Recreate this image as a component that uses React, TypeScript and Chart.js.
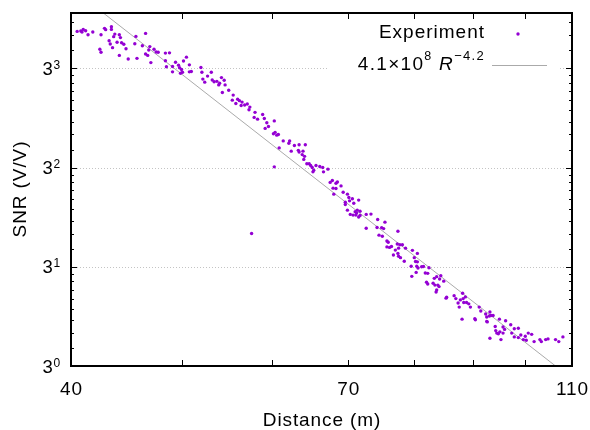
import React, { useEffect, useRef } from "react";
import { Chart, registerables } from "chart.js";

Chart.register(...registerables);

// Experiment: distance (m) and SNR (V/V)
const DISTANCE = [
  40.5, 40.8, 41.0, 40.9, 41.2, 41.4, 41.8, 42.5, 42.8, 42.9,
  43.4, 43.4, 43.7, 43.6, 44.1, 44.2, 43.2, 43.3, 43.9, 44.3,
  44.5, 43.5, 44.7, 42.4, 42.5, 44.1, 44.9, 45.7, 45.6, 45.5,
  46.5, 46.2, 46.9, 46.8, 46.5, 46.7, 47.0, 47.3, 47.5, 47.7,
  48.4, 48.8, 48.4, 48.5, 49.1, 49.4, 49.7, 49.8, 50.0, 49.1,
  49.9, 50.1, 50.2, 50.5, 50.8, 50.8, 51.0, 52.0, 52.1, 52.2,
  52.4, 52.7, 53.1, 53.2, 53.4, 53.7, 53.9, 54.2, 54.0, 54.5,
  54.6, 55.0, 54.3, 55.5, 55.4, 56.0, 56.2, 55.8, 56.5, 56.4,
  56.8, 57.1, 57.4, 57.3, 58.0, 57.9, 58.3, 58.9, 59.1, 59.4,
  59.6, 60.3, 59.2, 60.4, 60.2, 60.8, 60.6, 61.4, 62.1, 62.2,
  60.9, 62.4, 62.8, 63.4, 63.3, 63.4, 63.9, 64.2, 63.8, 64.1,
  64.0, 64.4, 64.7, 64.9, 65.1, 65.2, 65.3, 65.6, 66.1, 66.5,
  66.6, 67.2, 60.3, 57.6, 67.5, 67.8, 68.3, 68.5, 69.0, 67.9,
  68.3, 68.0, 69.3, 69.9, 70.1, 70.6, 70.2, 69.6, 69.6, 70.8,
  71.5, 69.9, 70.3, 70.7, 71.0, 71.3, 71.2, 71.7, 71.7, 71.1,
  71.5, 72.6, 73.3, 72.6, 74.3, 74.2, 74.5, 74.9, 75.2, 75.4,
  75.0, 75.7, 75.9, 75.7, 76.1, 76.4, 77.4, 77.3, 77.7, 78.1,
  77.5, 77.0, 78.6, 76.7, 77.4, 77.5, 77.8, 78.4, 79.7, 80.5,
  80.0, 80.2, 80.5, 79.5, 80.4, 80.6, 81.2, 81.5, 82.4, 80.3,
  79.6, 81.8, 82.2, 82.0, 82.2, 83.1, 83.3, 83.7, 84.4, 84.2,
  84.9, 83.4, 83.9, 84.1, 83.7, 83.6, 85.3, 85.4, 86.7, 87.0,
  87.4, 87.6, 87.8, 88.2, 88.3, 88.7, 88.4, 88.9, 89.3, 89.6,
  88.1, 90.4, 90.5, 91.2, 91.5, 92.4, 92.6, 92.6, 92.7, 93.2,
  93.4, 93.8, 93.1, 94.2, 94.3, 94.5, 94.8, 95.1, 95.7, 95.3,
  93.2, 95.0, 96.2, 95.7, 96.0, 97.2, 97.4, 97.9, 97.9, 98.7,
  98.7, 99.2, 99.7, 100.1, 100.3, 100.7, 101.4, 101.9, 103.1, 103.4,
  104.3, 104.8, 106.4, 107.1, 108.0,
];
const SNR = [
  40.7, 40.9, 41.6, 40.4, 41.0, 39.2, 40.4, 39.2, 42.1, 41.5,
  42.9, 41.6, 39.5, 38.4, 39.2, 38.0, 36.7, 35.4, 36.1, 35.9,
  35.3, 34.0, 33.6, 33.4, 32.3, 31.2, 30.0, 30.2, 38.5, 35.5,
  39.8, 34.7, 34.4, 33.1, 31.7, 31.2, 28.8, 33.4, 32.4, 32.3,
  32.0, 32.1, 29.4, 27.5, 27.6, 28.9, 28.0, 27.2, 26.7, 26.0,
  25.6, 25.9, 29.3, 30.6, 28.1, 26.0, 26.1, 27.3, 25.9, 24.0,
  23.2, 24.8, 25.9, 23.75, 23.3, 23.4, 22.5, 24.4, 22.9, 23.7,
  22.5, 21.2, 20.7, 20.1, 19.0, 19.2, 18.9, 18.3, 18.6, 17.9,
  18.0, 18.2, 17.6, 17.1, 16.6, 15.7, 15.4, 16.2, 15.5, 14.8,
  14.2, 15.1, 13.9, 13.3, 13.1, 13.0, 12.9, 12.1, 11.8, 12.1,
  11.2, 10.8, 11.5, 11.6, 10.9, 10.7, 10.8, 11.6, 10.4, 10.2,
  9.86, 9.39, 9.39, 9.22, 9.02, 8.59, 8.75, 9.22, 9.12, 9.02,
  8.59, 8.85, 9.08, 4.34, 7.64, 7.81, 7.57, 7.68, 7.35, 7.17,
  7.14, 6.71, 6.85, 6.71, 6.47, 6.38, 6.23, 6.14, 5.98, 6.07,
  6.28, 5.62, 5.36, 5.32, 5.52, 5.62, 5.44, 5.55, 5.30, 5.32,
  5.21, 5.36, 5.38, 4.60, 5.07, 4.64, 4.26, 4.63, 4.58, 4.92,
  4.21, 3.99, 3.94, 3.74, 3.72, 3.76, 4.45, 3.86, 3.83, 3.83,
  3.69, 3.61, 3.69, 3.42, 3.48, 3.37, 3.32, 3.19, 3.60, 3.48,
  3.32, 3.18, 3.17, 3.02, 3.02, 2.96, 3.00, 3.01, 2.97, 2.82,
  2.70, 2.80, 2.79, 2.53, 2.48, 2.50, 2.64, 2.69, 2.72, 2.62,
  2.56, 2.45, 2.45, 2.41, 2.32, 2.27, 2.12, 2.14, 2.18, 2.11,
  2.01, 1.92, 2.08, 2.24, 2.11, 2.15, 2.02, 2.02, 1.99, 1.92,
  1.68, 1.69, 1.67, 1.92, 1.84, 1.78, 1.72, 1.64, 1.63, 1.82,
  1.75, 1.75, 1.74, 1.55, 1.48, 1.44, 1.43, 1.46, 1.44, 1.34,
  1.36, 1.68, 1.65, 1.54, 1.50, 1.58, 1.44, 1.38, 1.51, 1.52,
  1.37, 1.41, 1.34, 1.39, 1.33, 1.44, 1.42, 1.31, 1.34, 1.31,
  1.34, 1.35, 1.34, 1.31, 1.38,
];

// Fitted power-law line, as drawn in the reference (end points)
const FIT_R = [42.7, 106.4];
const FIT_SNR = [49.9, 1.0];

// Axes
const X_MIN = 40;
const X_MAX = 110;
const Y_MIN = 1;
const Y_MAX = 49.9;
const X_TICKS = [40, 50, 60, 70, 80, 90, 100, 110];
const X_TICK_LABELS = [40, 70, 110];
const Y_BASE = 3;
const Y_EXPONENTS = [0, 1, 2, 3];

const PURPLE = "#9400d3";
const FIT_GREY = "#aaaaaa";
const FONT = "'Liberation Sans', Arial, Helvetica, sans-serif";

function setFont(ctx: CanvasRenderingContext2D, size: number, italic = false, spacing = 0.9) {
  ctx.font = `${italic ? "italic " : ""}${size}px ${FONT}`;
  (ctx as any).letterSpacing = `${spacing}px`;
}

const gnuplotLook = {
  id: "gnuplotLook",
  beforeDatasetsDraw(chart: any) {
    const { ctx, chartArea, scales } = chart;
    const { left, right, top } = chartArea;
    const y = scales.y;
    ctx.save();
    ctx.strokeStyle = "#c4c4c4";
    ctx.lineWidth = 1;
    ctx.setLineDash([1, 2]);
    for (const e of Y_EXPONENTS) {
      const v = Math.pow(Y_BASE, e);
      if (v <= Y_MIN) continue;
      const py = Math.round(y.getPixelForValue(v)) + 0.5;
      ctx.beginPath();
      ctx.moveTo(left, py);
      ctx.lineTo(right, py);
      ctx.stroke();
    }
    ctx.setLineDash([]);
    // legend box background
    ctx.fillStyle = "#ffffff";
    ctx.fillRect(right - 245, top + 2, 231, 64);
    ctx.restore();
  },
  afterDatasetsDraw(chart: any) {
    const { ctx, chartArea, scales } = chart;
    const { left, right, top, bottom } = chartArea;
    const x = scales.x;
    const y = scales.y;
    ctx.save();
    ctx.strokeStyle = "#000";
    ctx.fillStyle = "#000";

    // ticks
    ctx.lineWidth = 1;
    for (const t of X_TICKS) {
      const px = Math.round(x.getPixelForValue(t)) + 0.5;
      ctx.beginPath();
      ctx.moveTo(px, bottom);
      ctx.lineTo(px, bottom - 6);
      ctx.moveTo(px, top);
      ctx.lineTo(px, top + 6);
      ctx.stroke();
    }
    for (const e of Y_EXPONENTS) {
      const base = Math.pow(Y_BASE, e);
      const py = Math.round(y.getPixelForValue(base)) + 0.5;
      ctx.beginPath();
      ctx.moveTo(left, py);
      ctx.lineTo(left + 6, py);
      ctx.moveTo(right, py);
      ctx.lineTo(right - 6, py);
      ctx.stroke();
      const step = (base * Y_BASE - base) / 9;
      for (let k = 1; k <= 8; k++) {
        const v = base + k * step;
        if (v >= Y_MAX) break;
        const pm = Math.round(y.getPixelForValue(v)) + 0.5;
        ctx.beginPath();
        ctx.moveTo(left, pm);
        ctx.lineTo(left + 3, pm);
        ctx.moveTo(right, pm);
        ctx.lineTo(right - 3, pm);
        ctx.stroke();
      }
    }

    // frame
    ctx.lineWidth = 2;
    ctx.strokeRect(left, top, right - left, bottom - top);

    // y tick labels: 3^n
    ctx.textAlign = "left";
    ctx.textBaseline = "alphabetic";
    for (const e of Y_EXPONENTS) {
      const py = y.getPixelForValue(Math.pow(Y_BASE, e));
      setFont(ctx, 12, false, 0.8);
      const wSup = ctx.measureText(String(e)).width;
      setFont(ctx, 18.5, false, 0.8);
      const wBase = ctx.measureText(String(Y_BASE)).width;
      const xr = left - 10;
      ctx.fillText(String(Y_BASE), xr - wSup - wBase, py + 6.5);
      setFont(ctx, 12, false, 0.8);
      ctx.fillText(String(e), xr - wSup, py + 0.5);
    }

    // x tick labels
    setFont(ctx, 19, false, 0.9);
    ctx.textAlign = "center";
    for (const t of X_TICK_LABELS) {
      const px = x.getPixelForValue(t);
      ctx.fillText(String(t), px + 0.5, bottom + 28.5);
    }

    // axis titles
    ctx.fillText("Distance (m)", (left + right) / 2 + 0.5, bottom + 59.5);
    ctx.save();
    ctx.translate(26, (top + bottom) / 2);
    ctx.rotate(-Math.PI / 2);
    ctx.fillText("SNR (V/V)", 0.5, 0);
    ctx.restore();

    // legend
    ctx.textAlign = "left";
    const textRight = right - 87;
    setFont(ctx, 19, false, 1.0);
    const wExp = ctx.measureText("Experiment").width;
    ctx.fillText("Experiment", textRight - wExp, top + 24.7);
    ctx.fillStyle = PURPLE;
    ctx.beginPath();
    ctx.arc(right - 54, top + 21, 1.7, 0, Math.PI * 2);
    ctx.fill();
    ctx.fillStyle = "#000";

    const parts: [string, number, boolean, number][] = [
      ["4.1×10", 19, false, 0],
      ["8", 12.5, false, -9.5],
      [" ", 19, false, 0],
      ["R", 19, true, 0],
      ["−4.2", 13, false, -9.5],
    ];
    const base2 = top + 56.7;
    let total = 0;
    const widths: number[] = [];
    for (const [s, sz, it] of parts) {
      setFont(ctx, sz, it, 1.3);
      const w = ctx.measureText(s).width;
      widths.push(w);
      total += w;
    }
    let cx = textRight - total;
    parts.forEach(([s, sz, it, dy], i) => {
      setFont(ctx, sz, it, 1.3);
      ctx.fillText(s, cx, base2 + dy);
      cx += widths[i];
    });
    ctx.strokeStyle = FIT_GREY;
    ctx.lineWidth = 1;
    ctx.beginPath();
    ctx.moveTo(right - 80, top + 52.5);
    ctx.lineTo(right - 25, top + 52.5);
    ctx.stroke();

    ctx.restore();
  },
};

export default function App() {
  const ref = useRef<HTMLCanvasElement | null>(null);
  useEffect(() => {
    if (!ref.current) return;
    const points = DISTANCE.map((d, i) => ({ x: d, y: SNR[i] }));
    const fit = FIT_R.map((r, i) => ({ x: r, y: FIT_SNR[i] }));
    const chart = new Chart(ref.current, {
      type: "scatter",
      data: {
        datasets: [
          {
            label: "4.1×10^8 R^-4.2",
            data: fit,
            showLine: true,
            borderColor: FIT_GREY,
            borderWidth: 1,
            pointRadius: 0,
            order: 2,
          },
          {
            label: "Experiment",
            data: points,
            pointRadius: 1.7,
            pointBorderWidth: 0,
            backgroundColor: PURPLE,
            borderColor: PURPLE,
            order: 1,
          },
        ],
      },
      options: {
        responsive: false,
        animation: false,
        devicePixelRatio: 1,
        layout: { padding: { left: 71, right: 18, top: 13, bottom: 64 } },
        plugins: { legend: { display: false }, tooltip: { enabled: false } },
        scales: {
          x: { type: "logarithmic", min: X_MIN, max: X_MAX, display: false },
          y: { type: "logarithmic", min: Y_MIN, max: Y_MAX, display: false },
        },
      },
      plugins: [gnuplotLook],
    });
    return () => chart.destroy();
  }, []);
  return (
    <div style={{ position: "fixed", left: 0, top: 0, width: 590, height: 430, background: "#fff" }}>
      <canvas ref={ref} width={590} height={430} />
    </div>
  );
}
